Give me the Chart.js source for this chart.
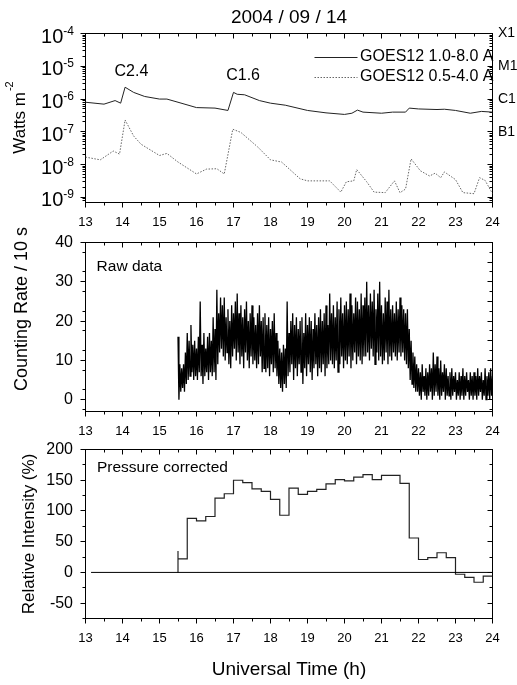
<!doctype html>
<html>
<head>
<meta charset="utf-8">
<title>2004 / 09 / 14</title>
<script src="https://cdnjs.cloudflare.com/ajax/libs/Chart.js/4.4.1/chart.umd.min.js"></script>
<style>
	body { margin: 0; background: #fff; }
	#wrap { position: relative; width: 517px; height: 685px; }
	canvas { position: absolute; left: 0; }
</style>
</head>
<body>
<div id="wrap">
	<canvas id="goes" width="517" height="230" style="top:0px"></canvas>
	<canvas id="raw" width="517" height="225" style="top:215px"></canvas>
	<canvas id="pres" width="517" height="260" style="top:425px"></canvas>
</div>
<script>
// ---- data ----
var hourLabels = [13, 14, 15, 16, 17, 18, 19, 20, 21, 22, 23, 24];

// GOES12 X-ray flux, W m^-2
var seriesNames = ['GOES12 1.0-8.0 A', 'GOES12 0.5-4.0 A'];
var longTime = [13.0, 13.5, 13.8, 13.95, 14.07, 14.3, 14.6, 15.0, 15.2, 15.5, 16.0, 16.5, 16.85, 17.0, 17.1, 17.3, 17.7, 18.0, 18.4, 19.0, 19.5, 20.0, 20.2, 20.35, 20.5, 21.0, 21.3, 21.65, 21.75, 22.0, 22.5, 22.7, 23.0, 23.4, 23.7, 24.0];
var longFlux = [8e-7, 7e-7, 9e-7, 7.5e-7, 2.3e-6, 1.6e-6, 1.2e-6, 1.0e-6, 1.0e-6, 8e-7, 5.5e-7, 5.3e-7, 4.5e-7, 1.6e-6, 1.4e-6, 1.35e-6, 9e-7, 7.5e-7, 6.5e-7, 4.5e-7, 3.8e-7, 3.4e-7, 3.7e-7, 4.6e-7, 4e-7, 3.7e-7, 4e-7, 4e-7, 5.3e-7, 5e-7, 4.8e-7, 4.9e-7, 4.5e-7, 3.7e-7, 4.2e-7, 4e-7];
var shortTime = [13.0, 13.4, 13.75, 13.92, 14.07, 14.3, 14.5, 15.0, 15.2, 15.5, 16.0, 16.27, 16.55, 16.75, 16.98, 17.2, 17.65, 18.0, 18.3, 18.8, 19.0, 19.6, 19.9, 20.05, 20.25, 20.33, 20.6, 20.8, 21.1, 21.35, 21.5, 21.65, 21.8, 22.05, 22.3, 22.45, 22.6, 22.7, 23.0, 23.2, 23.5, 23.65, 23.8, 24.0];
var shortFlux = [1.7e-8, 1.4e-8, 2.6e-8, 2.1e-8, 2.3e-7, 7.5e-8, 4.2e-8, 1.9e-8, 2.2e-8, 1.2e-8, 5.2e-9, 7.3e-9, 7.5e-9, 5.2e-9, 1.2e-7, 9.6e-8, 3.5e-8, 1.4e-8, 1.2e-8, 3.7e-9, 3.2e-9, 3.2e-9, 1.45e-9, 3e-9, 3.2e-9, 7.1e-9, 3e-9, 1.45e-9, 1.4e-9, 3.2e-9, 1.4e-9, 1.8e-9, 1.5e-8, 6.5e-9, 4.5e-9, 5.5e-9, 4e-9, 6e-9, 3.5e-9, 1.4e-9, 1.3e-9, 4e-9, 3.3e-9, 1.3e-9];
var fluxTicks = [1e-9, 1e-8, 1e-7, 1e-6, 1e-5, 1e-4];
var classLabels = ['X1', 'M1', 'C1', 'B1'];
var classLevels = [1e-4, 1e-5, 1e-6, 1e-7];

// raw counting rate: highest / lowest count in each 3 min slice (15.50 .. 24.00 h)
var rawStart = 15.5, rawStep = 0.05;
var rawHigh = [
	16, 9, 8, 9, 12,
	17, 15, 19, 14, 15, 13, 16, 25, 14, 17, 13, 16, 17, 15, 21, 18,
	28, 22, 26, 24, 26, 21, 23, 20, 24, 22, 25, 27, 22, 24, 21, 23, 25, 20, 22, 24, 21, 19, 22, 24, 20, 21,
	22, 19, 21, 18, 20, 22, 17, 15, 13, 12, 14, 13, 25,
	17, 20, 22, 19, 21, 18, 20, 21, 17, 22, 19, 21, 20, 18, 22, 19, 21, 23, 20, 22, 24, 19, 27,
	22, 24, 21, 25, 23, 26, 22, 24, 25, 23, 27, 24, 22, 26, 25, 23, 27, 24,
	26, 30, 24, 27, 25, 28, 23, 27, 30, 24, 22, 26, 25, 28, 23, 24, 22, 25, 23, 26, 24, 23, 22, 23,
	18, 15, 12, 11, 9,
	8, 7, 9, 6, 8, 7, 9, 8, 12, 9, 11, 8, 10, 7, 9, 8, 6, 7, 8, 6, 7, 5, 7, 6, 8, 6, 7, 5, 7, 6, 7, 6, 8, 6, 7, 5, 8, 6, 7, 8, 6
];
var rawLow = [
	0, 2, 3, 2, 4,
	5, 6, 7, 5, 6, 5, 7, 6, 4, 6, 7, 5, 7, 6, 7, 5,
	9, 12, 13, 11, 10, 12, 9, 8, 11, 13, 10, 12, 9, 11, 8, 12, 10, 8, 11, 9, 10, 8, 9, 11, 7, 8,
	7, 8, 6, 9, 7, 8, 6, 4, 3, 2, 4, 3, 6,
	7, 9, 5, 8, 6, 9, 7, 4, 8, 6, 9, 7, 5, 8, 9, 6, 8, 7, 9, 6, 8, 9, 10,
	9, 8, 10, 7, 9, 11, 8, 10, 9, 11, 8, 10, 12, 9, 11, 10, 9, 11,
	11, 12, 10, 13, 11, 9, 12, 10, 11, 9, 10, 12, 9, 11, 10, 12, 11, 10, 12, 11, 12, 10, 9, 8,
	5, 4, 3, 2, 2,
	1, 0, 2, 1, 0, 1, 2, 0, 1, 2, 1, 0, 1, 2, 0, 1, 1, 0, 1, 2, 0, 1, 0, 1, 0, 1, 2, 0, 1, 0, 1, 0, 1, 2, 0, 1, 0, 1, 0, 1, 0
];
var countTicks = [0, 5, 10, 15, 20, 25, 30, 35, 40];

// pressure corrected relative intensity, 15 min bins
var pcStart = 15.5, pcStep = 0.25;
var pcSpike = 35;
var pcValue = [22, 88, 84, 91, 121, 128, 150, 146, 136, 132, 119, 93, 137, 127, 132, 135, 144, 151, 149, 155, 159, 151, 158, 158, 145, 56, 21, 24, 32, 24, -3, -8, -16, -6];
var pcBaseStart = 13.15;
var pcTicks = [-50, 0, 50, 100, 150, 200];

// ---- build point lists ----
var longPts = longTime.map(function (t, i) { return { x: t, y: longFlux[i] }; });
var shortPts = shortTime.map(function (t, i) { return { x: t, y: shortFlux[i] }; });

var rawPts = [];
rawHigh.forEach(function (hv, i) {
	var t = rawStart + i * rawStep;
	rawPts.push({ x: t, y: hv }, { x: t + rawStep / 2, y: rawLow[i] });
});

var pcPts = [{ x: pcStart, y: 0 }, { x: pcStart, y: pcSpike }];
pcValue.forEach(function (v, i) { pcPts.push({ x: pcStart + i * pcStep, y: v }); });
pcPts.push({ x: pcStart + pcValue.length * pcStep, y: pcValue[pcValue.length - 1] });
var zeroPts = [{ x: pcBaseStart, y: 0 }, { x: 24, y: 0 }];

// ---- helpers ----
var FONT = '"Liberation Sans", Arial, Helvetica, sans-serif';
Chart.defaults.font.family = FONT;
Chart.defaults.color = '#000';
function fontOf(size) { return size + 'px ' + FONT; }

// minor tick positions half way between majors (and past the ends when in range)
function midTicks(majors, min, max) {
	var step = majors[1] - majors[0], out = [];
	for (var v = majors[0] - step / 2; v <= max + 1e-9; v += step) {
		if (v >= min - 1e-9) out.push(v);
	}
	return out;
}
function logMinor(min, max) {
	var out = [];
	for (var e = -10; e <= -5; e++) {
		for (var k = 2; k <= 9; k++) {
			var v = k * Math.pow(10, e);
			if (v >= min && v <= max) out.push(v);
		}
	}
	return out;
}
var halfHours = midTicks(hourLabels, 13, 24);

// an axis that only draws its line and tick marks (len < 0 points into the plot)
function markAxis(axis, pos, type, min, max, values, len) {
	return {
		axis: axis, type: type, position: pos, min: min, max: max, display: true, weight: 0,
		ticks: { display: false },
		grid: { display: true, drawOnChartArea: false, drawTicks: true, tickLength: len, color: '#000', lineWidth: 1 },
		border: { display: true, color: '#000', width: 1 },
		afterBuildTicks: function (s) { s.ticks = values.map(function (v) { return { value: v }; }); },
		afterFit: function (s) { if (axis === 'x') { s.height = 0; } else { s.width = 0; } }
	};
}

function hourAxis(height, title) {
	return {
		axis: 'x', type: 'linear', position: 'bottom', min: 13, max: 24, weight: 1,
		grid: { display: true, drawOnChartArea: false, drawTicks: true, tickLength: 5, color: '#000', lineWidth: 1 },
		border: { display: true, color: '#000', width: 1 },
		ticks: { font: { size: 13 }, color: '#000', padding: 7, maxRotation: 0, autoSkip: false },
		title: title ? { display: true, text: title, font: { size: 19 }, color: '#000', padding: { top: 0, bottom: 3.6 } } : { display: false },
		afterBuildTicks: function (s) { s.ticks = hourLabels.map(function (v) { return { value: v }; }); },
		afterFit: function (s) { s.height = height; }
	};
}

function valueAxis(type, min, max, majors, showLabels) {
	return {
		axis: 'y', type: type, position: 'left', min: min, max: max, weight: 1,
		grid: { display: true, drawOnChartArea: false, drawTicks: true, tickLength: 5, color: '#000', lineWidth: 1 },
		border: { display: true, color: '#000', width: 1 },
		ticks: { display: showLabels, font: { size: 16 }, color: '#000', padding: 7.5 },
		afterBuildTicks: function (s) { s.ticks = majors.map(function (v) { return { value: v }; }); },
		afterFit: function (s) { s.width = 85.5; }
	};
}

function panelScales(xHeight, xTitle, type, min, max, majors, minors, showLabels) {
	return {
		x: hourAxis(xHeight, xTitle),
		y: valueAxis(type, min, max, majors, showLabels),
		xMinor: markAxis('x', 'bottom', 'linear', 13, 24, halfHours, 3),
		xTop: markAxis('x', 'top', 'linear', 13, 24, hourLabels, -5),
		xTopMinor: markAxis('x', 'top', 'linear', 13, 24, halfHours, -3),
		yMinor: markAxis('y', 'left', type, min, max, minors, 3),
		yRight: markAxis('y', 'right', type, min, max, majors, -5),
		yRightMinor: markAxis('y', 'right', type, min, max, minors, -3)
	};
}

function baseOptions(pad, scales) {
	return {
		responsive: false,
		animation: false,
		devicePixelRatio: 1,
		layout: { padding: pad },
		plugins: { legend: { display: false }, tooltip: { enabled: false } },
		elements: { point: { radius: 0 }, line: { tension: 0 } },
		scales: scales
	};
}

function yTitle(ctx, text, x, y, size) {
	ctx.save();
	ctx.translate(x, y);
	ctx.rotate(-Math.PI / 2);
	ctx.font = fontOf(size);
	ctx.fillStyle = '#000';
	ctx.textAlign = 'center';
	ctx.textBaseline = 'middle';
	ctx.fillText(text, 0, 0);
	ctx.restore();
}

// ---- panel 1 : GOES flux ----
var flareNotes = [['C2.4', 14.24, 6.8e-6], ['C1.6', 17.26, 5.1e-6]];
var fluxMin = 7.3e-10, fluxMax = 1e-4;

new Chart(document.getElementById('goes'), {
	type: 'line',
	data: {
		datasets: [
			{ label: seriesNames[0], data: longPts, xAxisID: 'x', yAxisID: 'y', borderColor: '#222', borderWidth: 1, fill: false },
			{ label: seriesNames[1], data: shortPts, xAxisID: 'x', yAxisID: 'y', borderColor: '#666', borderWidth: 1, borderDash: [1.5, 1.5], fill: false }
		]
	},
	options: baseOptions({ top: 33.5, left: 0, right: 24.5, bottom: 0 },
		panelScales(27.5, null, 'logarithmic', fluxMin, fluxMax, fluxTicks, logMinor(fluxMin, fluxMax), false)),
	plugins: [{
		id: 'goesText',
		afterDraw: function (chart) {
			var ctx = chart.ctx, a = chart.chartArea, xs = chart.scales.x, ys = chart.scales.y;
			ctx.save();
			ctx.fillStyle = '#000';
			ctx.textAlign = 'center';
			ctx.textBaseline = 'middle';
			ctx.font = fontOf(19);
			ctx.fillText('2004 / 09 / 14', (a.left + a.right) / 2, 18);

			// 10^n labels
			ctx.textAlign = 'right';
			ctx.textBaseline = 'alphabetic';
			fluxTicks.forEach(function (v) {
				var py = ys.getPixelForValue(v);
				var ex = String(Math.round(Math.log10(v)));
				ctx.font = fontOf(12);
				ctx.fillText(ex, 74, py + 1);
				var w = ctx.measureText(ex).width;
				ctx.font = fontOf(20);
				ctx.fillText('10', 74 - w, py + 9);
			});

			// flare classes on the right
			ctx.textAlign = 'left';
			ctx.textBaseline = 'middle';
			ctx.font = fontOf(14);
			classLabels.forEach(function (c, i) {
				ctx.fillText(c, a.right + 5.5, ys.getPixelForValue(classLevels[i]));
			});

			// flare notes
			ctx.textAlign = 'center';
			ctx.font = fontOf(16);
			flareNotes.forEach(function (n) {
				ctx.fillText(n[0], xs.getPixelForValue(n[1]), ys.getPixelForValue(n[2]));
			});

			// legend
			var rows = [57, 77];
			chart.data.datasets.forEach(function (ds, i) {
				ctx.save();
				ctx.strokeStyle = ds.borderColor;
				ctx.lineWidth = 1;
				ctx.setLineDash(ds.borderDash || []);
				ctx.beginPath();
				ctx.moveTo(a.right - 178, rows[i] + 0.5);
				ctx.lineTo(a.right - 135, rows[i] + 0.5);
				ctx.stroke();
				ctx.restore();
				ctx.textAlign = 'right';
				ctx.font = fontOf(16);
				ctx.fillText(ds.label, a.right + 1, rows[i]);
			});

			// y title with superscript
			ctx.save();
			ctx.translate(19, (a.top + a.bottom) / 2);
			ctx.rotate(-Math.PI / 2);
			ctx.textAlign = 'left';
			ctx.textBaseline = 'alphabetic';
			ctx.font = fontOf(17);
			var w1 = ctx.measureText('Watts m').width;
			ctx.font = fontOf(11);
			var w2 = ctx.measureText('-2').width;
			var x0 = -(w1 + w2) / 2;
			ctx.font = fontOf(17);
			ctx.fillText('Watts m', x0, 6);
			ctx.font = fontOf(11);
			ctx.fillText('-2', x0 + w1 + 1, -6);
			ctx.restore();
			ctx.restore();
		}
	}]
});

// ---- panel 2 : raw counting rate ----
new Chart(document.getElementById('raw'), {
	type: 'line',
	data: {
		datasets: [{ label: 'Raw data', data: rawPts, xAxisID: 'x', yAxisID: 'y', borderColor: '#000', borderWidth: 1.3, fill: false }]
	},
	options: baseOptions({ top: 27.5, left: 0, right: 24.5, bottom: 0 },
		panelScales(28.5, null, 'linear', -3, 40, countTicks, midTicks(countTicks, -3, 40), true)),
	plugins: [{
		id: 'rawText',
		afterDraw: function (chart) {
			var ctx = chart.ctx, xs = chart.scales.x, ys = chart.scales.y;
			yTitle(ctx, 'Counting Rate / 10 s', 22, 94, 18);
			ctx.save();
			ctx.fillStyle = '#000';
			ctx.font = fontOf(15.5);
			ctx.textAlign = 'left';
			ctx.textBaseline = 'middle';
			ctx.fillText('Raw data', xs.getPixelForValue(13.3), ys.getPixelForValue(33.8));
			ctx.restore();
		}
	}]
});

// ---- panel 3 : pressure corrected ----
new Chart(document.getElementById('pres'), {
	type: 'line',
	data: {
		datasets: [
			{ label: 'zero', data: zeroPts, xAxisID: 'x', yAxisID: 'y', borderColor: '#000', borderWidth: 1, fill: false },
			{ label: 'Pressure corrected', data: pcPts, xAxisID: 'x', yAxisID: 'y', borderColor: '#222', borderWidth: 1.2, stepped: true, fill: false }
		]
	},
	options: baseOptions({ top: 24.5, left: 0, right: 24.5, bottom: 0 },
		panelScales(66.5, 'Universal Time (h)', 'linear', -75, 200, pcTicks, midTicks(pcTicks, -75, 200), true)),
	plugins: [{
		id: 'presText',
		afterDraw: function (chart) {
			var ctx = chart.ctx, a = chart.chartArea, xs = chart.scales.x, ys = chart.scales.y;
			yTitle(ctx, 'Relative Intensity (%)', 29.5, (a.top + a.bottom) / 2, 17);
			ctx.save();
			ctx.fillStyle = '#000';
			ctx.font = fontOf(15.5);
			ctx.textAlign = 'left';
			ctx.textBaseline = 'middle';
			ctx.fillText('Pressure corrected', xs.getPixelForValue(13.31), ys.getPixelForValue(170.7));
			ctx.restore();
		}
	}]
});
</script>
</body>
</html>
